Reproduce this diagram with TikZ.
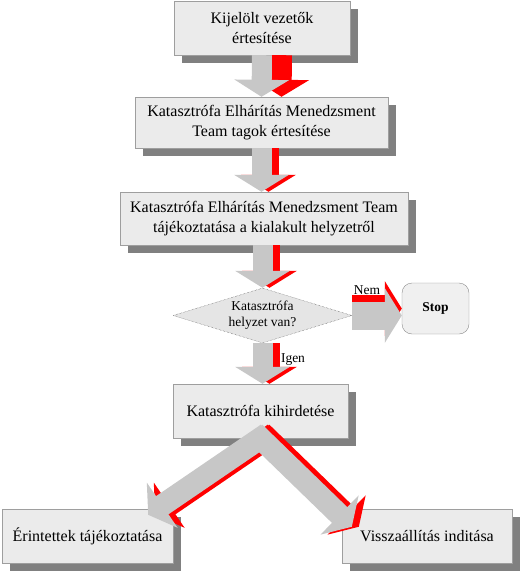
\documentclass[tikz,border=0pt]{standalone}
\usepackage{fontspec}
\setmainfont{Liberation Serif}
\usetikzlibrary{shapes.geometric, arrows.meta}
\tikzset{
	box/.style={shape=rectangle, draw=black!38, fill=black!8, align=center, inner sep=2pt,%
				font=\fontsize{16}{20}\selectfont,%
				preaction={fill=black!50, draw=none, transform canvas={shift={(8pt,-8pt)}}}},
	fatarrow/.style={line width=20pt, draw=black!22, -{Triangle[width=54pt, length=17pt]}},
	fatshade/.style={fatarrow, draw=red},
	small/.style={font=\fontsize{13.5}{16}\selectfont}
}
% shaded block arrow: [offset of the dark side]{options}{from}{to}
\newcommand{\blockarrow}[4][xshift=7pt]{%
	\draw [fatshade, #2] ([#1]#3) to ([#1]#4);
	\draw [fatarrow, #2] (#3) to (#4);}
\begin{document}
\begin{tikzpicture}[x=1pt, y=-1pt]
	\useasboundingbox (0,0) rectangle (531,573);
	\node [box, minimum width=176, minimum height=54] (vezetok) at (262,28) {Kijelölt vezetők\\ értesítése};
	\node [box, minimum width=253, minimum height=51] (tagok) at (261.5,122.5) {Katasztrófa Elhárítás Menedzsment\\ Team tagok értesítése};
	\node [box, minimum width=288, minimum height=53] (team) at (264,218.5) {Katasztrófa Elhárítás Menedzsment Team\\ tájékoztatása a kialakult helyzetről};
	\node [shape=diamond, aspect=3.25, inner sep=0pt, minimum width=179, minimum height=55,%
				draw=black!75, densely dotted, fill=black!10, small, align=center]%
				(helyzet) at (262.5,315.5) {Katasztrófa\\ helyzet van?};
	\node [shape=rectangle, rounded corners=10pt, minimum width=67, minimum height=51,%
				draw=black!45, fill=black!6, font=\fontsize{13.5}{16}\selectfont\bfseries]%
				(stop) at (435.5,308.5) {Stop};
	\node [box, minimum width=175, minimum height=54] (kihirdetes) at (260.5,411) {Katasztrófa kihirdetése};
	\node [box, minimum width=171, minimum height=54] (erintettek) at (87.5,536) {Érintettek tájékoztatása};
	\node [box, minimum width=170, minimum height=54] (visszaallitas) at (427,536) {Visszaállítás inditása};
	% arrow ends
	\coordinate (tagokend) at (tagok.south |- team.north);
	\coordinate (teamstart) at (team.south -| helyzet.north);
	\coordinate (stopend) at (helyzet.east -| stop.west);
	\coordinate (igenend) at (helyzet.south |- kihirdetes.north);
	\coordinate (ertip) at ([xshift=-25pt, yshift=-6pt]erintettek.north east);
	\coordinate (visztip) at ([xshift=10pt, yshift=-18pt]visszaallitas.north west);
	% block arrows
	\blockarrow[xshift=20pt]{}{vezetok.south}{tagok.north}
	\blockarrow{}{tagok.south}{tagokend}
	\blockarrow{}{teamstart}{helyzet.north}
	\blockarrow[yshift=7pt]{line width=28pt}{helyzet.east}{stopend}
	\blockarrow{}{helyzet.south}{igenend}
	\blockarrow{line width=22pt, shorten <=-8pt}{kihirdetes.south}{ertip}
	\blockarrow{line width=22pt, shorten <=-8pt}{kihirdetes.south}{visztip}
	\node [small] (nem) at (367,290) {Nem};
	\node [small] (igen) at (293,360) {Igen};
\end{tikzpicture}
\end{document}
